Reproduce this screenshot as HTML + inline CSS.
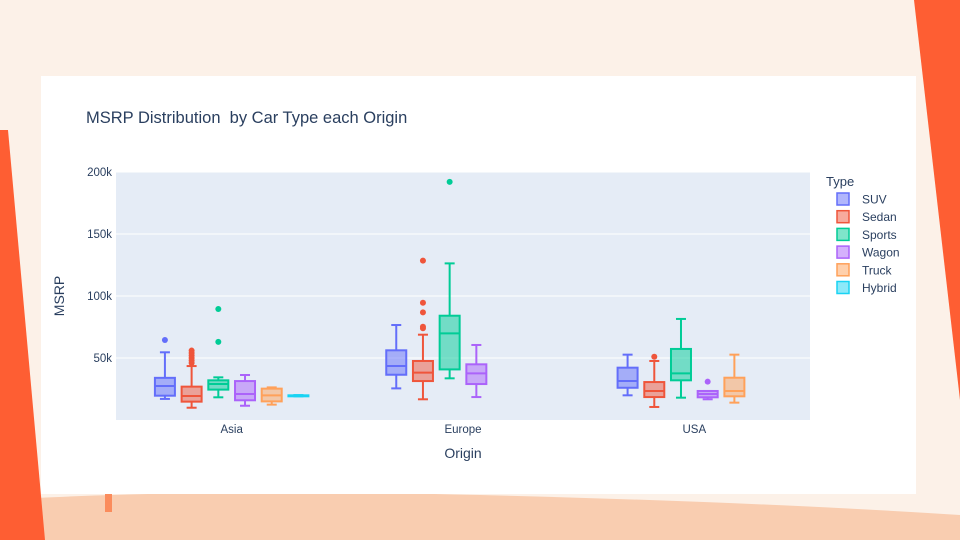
<!DOCTYPE html>
<html><head><meta charset="utf-8">
<style>
html,body{margin:0;padding:0;width:960px;height:540px;overflow:hidden;background:#fcf1e8;font-family:"Liberation Sans",Arial,sans-serif;}
svg{display:block}
</style></head>
<body>
<svg id="chart" width="960" height="540" viewBox="0 0 960 540">
  <g>
    <rect x="0" y="0" width="960" height="540" fill="#fcf1e8"/>
    <path d="M0,500 Q200,488 480,495 Q760,502 960,515 L960,540 L0,540 Z" fill="#f9cdb0"/>
    <path d="M0,130 L8,130 L45,540 L0,540 Z" fill="#fe5e33"/>
    <path d="M914,0 L960,0 L960,400 Z" fill="#fe5e33"/>
    <rect x="105" y="492" width="7" height="20" fill="#fb8c5c"/>
  </g>
  <rect x="41" y="76" width="875" height="418" fill="#ffffff"/>
  <text x="86" y="123" font-size="16.5" fill="#2a3f5f" style="white-space:pre">MSRP Distribution  by Car Type each Origin</text>
  <rect x="116" y="172" width="694" height="248" fill="#e5ecf6"/>
  <g id="grid"></g>
  <g id="marks"></g>
  <g id="axes"></g>
  <text x="463" y="458" font-size="14" fill="#2a3f5f" text-anchor="middle">Origin</text>
  <text x="0" y="0" font-size="14" fill="#2a3f5f" text-anchor="middle" transform="translate(64,296) rotate(-90)">MSRP</text>
  <g id="legend"></g>
</svg>
<script>
const origins = ["Asia","Europe","USA"];
const types = ["SUV","Sedan","Sports","Wagon","Truck","Hybrid"];
const colors = ["#636efa","#EF553B","#00cc96","#ab63fa","#FFA15A","#19d3f3"];
const yTicks = [50000,100000,150000,200000];
const yTickLabels = ["50k","100k","150k","200k"];
// [origin][type] = [lowerWhisker, q1, median, q3, upperWhisker] or null
const asiaStats = [[17000,19600,27400,34000,54600],[9900,14800,19400,26900,43500],[18300,24500,29000,32000,34400],[11500,15900,21000,31400,36300],[12400,15000,19900,25300,26300],[19100,19300,19600,19900,20100]];
const europeStats = [[25500,36500,43500,56200,76600],[16700,31400,38200,47600,68800],[33600,40800,69900,84100,126300],[18500,29000,37600,44900,60500],null,null];
const usaStats = [[19900,26000,31500,42200,52700],[10500,18500,23400,30600,47600],[18000,32000,37600,57300,81500],[16700,18300,21000,23400,23400],[14000,19100,23400,34100,52700],null];
const asiaOutliers = [[64500],[56000,54000,52000,50000,48000,46000],[63000,89500],[],[],[]];
const europeOutliers = [[],[128500,94600,86800,75200,74000],[192000],[],[],[]];
const usaOutliers = [[],[51000],[],[30900],[],[]];

const stats = [asiaStats, europeStats, usaStats];
const outliers = [asiaOutliers, europeOutliers, usaOutliers];
const NS="http://www.w3.org/2000/svg";
const plot={x:116,y:172,w:694,h:248,yMax:200000};
function yScale(v){return plot.y+plot.h - v/plot.yMax*plot.h;}
const catW = plot.w/origins.length;
function catX(i){return plot.x + catW*(i+0.5);}
const slotW = 26.7;
function boxX(ci,ti){return catX(ci) + (ti-(types.length-1)/2)*slotW;}
function mk(tag,attrs,parent){const e=document.createElementNS(NS,tag);for(const k in attrs)e.setAttribute(k,attrs[k]);parent.appendChild(e);return e;}

const grid=document.getElementById('grid');
yTicks.forEach((t,i)=>{
  const y=yScale(t);
  const l=mk('line',{x1:plot.x,x2:plot.x+plot.w,y1:y,y2:y,stroke:'#fff','stroke-width':1},grid);
  
  
});
const axes=document.getElementById('axes');
yTicks.forEach((t,i)=>{
  const tx=mk('text',{x:112,y:yScale(t)+4,'font-size':11.5,fill:'#2a3f5f','text-anchor':'end'},axes);
  tx.textContent=yTickLabels[i];
  
  
});
origins.forEach((o,i)=>{
  const tx=mk('text',{x:catX(i),y:433,'font-size':11.5,fill:'#2a3f5f','text-anchor':'middle'},axes);
  tx.textContent=o;
  
  
});
const marks=document.getElementById('marks');
const bw=20;
stats.forEach((row,ci)=>{
  row.forEach((s,ti)=>{
    const cx=boxX(ci,ti), c=colors[ti];
    const g=mk('g',{},marks);
    
    
    if(s){
      const [lo,q1,md,q3,hi]=s;
      mk('line',{x1:cx,x2:cx,y1:yScale(hi),y2:yScale(q3),stroke:c,'stroke-width':2},g);
      mk('line',{x1:cx,x2:cx,y1:yScale(q1),y2:yScale(lo),stroke:c,'stroke-width':2},g);
      mk('line',{x1:cx-bw/4,x2:cx+bw/4,y1:yScale(hi),y2:yScale(hi),stroke:c,'stroke-width':2},g);
      mk('line',{x1:cx-bw/4,x2:cx+bw/4,y1:yScale(lo),y2:yScale(lo),stroke:c,'stroke-width':2},g);
      mk('rect',{x:cx-bw/2,y:yScale(q3),width:bw,height:Math.max(1,yScale(q1)-yScale(q3)),fill:c,'fill-opacity':0.5,stroke:c,'stroke-width':2},g);
      mk('line',{x1:cx-bw/2,x2:cx+bw/2,y1:yScale(md),y2:yScale(md),stroke:c,'stroke-width':2},g);
    }
    outliers[ci][ti].forEach(v=>{
      const p=mk('circle',{cx:cx,cy:yScale(v),r:3,fill:c},g);
      
      
    });
  });
});
const leg=document.getElementById('legend');


const lt=mk('text',{x:826,y:186,'font-size':13,fill:'#2a3f5f'},leg);
lt.textContent='Type';


types.forEach((t,i)=>{
  const y=199+i*17.7;
  const g=mk('g',{},leg);
  
  
  mk('rect',{x:837,y:y-6,width:12,height:12,fill:colors[i],'fill-opacity':0.5,stroke:colors[i],'stroke-width':1.5},g);
  const tx=mk('text',{x:862,y:y+4.5,'font-size':12,fill:'#2a3f5f'},g);
  tx.textContent=t;
});
</script>
</body></html>
